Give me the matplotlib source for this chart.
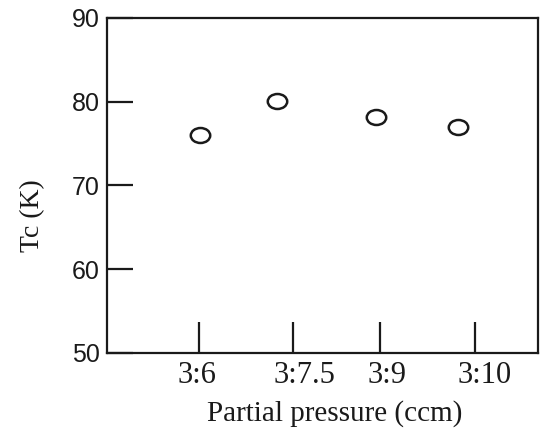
"""Tc versus partial pressure ratio (scanned figure recreation)."""

import matplotlib

matplotlib.use("Agg")
import matplotlib.pyplot as plt
from matplotlib.path import Path

# positions on an arbitrary 0-10 horizontal scale
tick_pos = [2.13, 4.32, 6.33, 8.54]
tick_labels = ["3:6", "3:7.5", "3:9", "3:10"]
label_pos = [2.09, 4.57, 6.50, 8.75]

point_x = [2.16, 3.94, 6.24, 8.14]
tc_values = [76.0, 80.1, 78.2, 77.0]

y_ticks = [50, 60, 70, 80, 90]

INK = "#1a1a1a"
SERIF = ["Liberation Serif", "DejaVu Serif"]
SANS = ["Liberation Sans", "DejaVu Sans"]

# the printed circles are slightly flattened
circle = Path.unit_circle()
oval = Path(circle.vertices * [1.0, 0.77], circle.codes)

fig = plt.figure(figsize=(5.42, 4.34), dpi=100)
ax = fig.add_axes([107 / 542, 81 / 434, 431 / 542, 335 / 434])

ax.plot(point_x, tc_values, linestyle="none", marker=oval, markersize=14,
        markerfacecolor="white", markeredgecolor=INK, markeredgewidth=1.8)

ax.set_xlim(0, 10)
ax.set_ylim(50, 90)

# y axis: inward ticks, sans-serif numbers
ax.set_yticks(y_ticks)
ax.set_yticklabels([str(v) for v in y_ticks], family=SANS, fontsize=18, color=INK)
ax.tick_params(axis="y", direction="in", length=19, width=1.6, pad=5, colors=INK)

# x axis: tall inward ticks, labels placed where the scan shows them
ax.set_xticks(tick_pos)
ax.set_xticklabels([])
ax.tick_params(axis="x", which="major", direction="in", length=22, width=1.6, colors=INK)
ax.set_xticks(label_pos, minor=True)
ax.set_xticklabels(tick_labels, minor=True, family=SERIF, fontsize=22, color=INK)
ax.tick_params(axis="x", which="minor", length=0, pad=6)

for spine in ax.spines.values():
    spine.set_linewidth(1.6)
    spine.set_color(INK)

ax.set_xlabel("Partial pressure (ccm)", family=SERIF, fontsize=21, color=INK, va="top")
ax.xaxis.set_label_coords(0.529, -0.14)
ax.set_ylabel("Tc (K)", family=SERIF, fontsize=20, color=INK)
ax.yaxis.set_label_coords(-0.144, 0.41)

fig.savefig("out.png", dpi=100)
plt.close(fig)
